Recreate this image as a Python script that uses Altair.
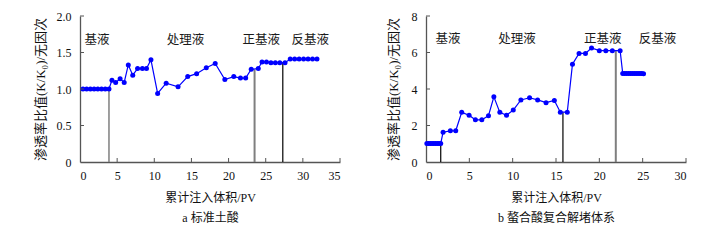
import altair as alt
import pandas as pd

# ---------------- data: panel a (标准土酸) ----------------
a_x = [0.4, 0.9, 1.4, 1.9, 2.4, 2.9, 3.4, 3.9,
       4.3, 4.8, 5.4, 5.95, 6.5, 7.1, 7.75, 8.4, 8.95, 9.55, 10.45, 11.6,
       13.2, 14.5, 15.7, 17.0, 18.2, 19.5, 20.7, 21.6, 22.3, 23.05, 24.0,
       24.5, 25.1, 25.7, 26.3, 26.9, 27.6,
       28.3, 28.9, 29.5, 30.1, 30.7, 31.3, 31.9]
a_y = [1.0, 1.0, 1.0, 1.0, 1.0, 1.0, 1.0, 1.0,
       1.12, 1.09, 1.14, 1.09, 1.33, 1.19, 1.28, 1.28, 1.28, 1.40, 0.94, 1.08,
       1.03, 1.17, 1.21, 1.29, 1.35, 1.13, 1.17, 1.15, 1.15, 1.27, 1.28,
       1.37, 1.37, 1.36, 1.36, 1.36, 1.36,
       1.41, 1.41, 1.41, 1.41, 1.41, 1.41, 1.41]
a_div_x = [3.9, 23.5, 27.3]
a_div_top = [1.0, 1.27, 1.36]
a_div_color = ["#7f7f7f", "#7f7f7f", "#000000"]
a_div_width = [1.5, 2.0, 1.2]
a_stage_x = [2.3, 14.2, 24.4, 31.0]
a_stage_y = [1.67, 1.67, 1.67, 1.67]
a_xticks = [0, 5, 10, 15, 20, 25, 30, 35]
a_yticks = [0, 0.5, 1.0, 1.5, 2.0]

# ---------------- data: panel b (螯合酸复合解堵体系) ----------------
b_x = [0.1, 0.3, 0.5, 0.7, 0.9, 1.1, 1.3, 1.5, 1.7,
       1.97, 2.81, 3.43, 4.12, 4.97, 5.70, 6.44, 7.21, 7.83, 8.52, 9.29, 10.07,
       10.95, 11.95, 12.88, 13.85, 14.81, 15.5, 16.3,
       16.9, 17.66, 18.4, 19.1, 20.0, 20.75, 21.5, 22.4,
       22.7, 22.92, 23.14, 23.36, 23.58, 23.8, 24.02, 24.24, 24.46, 24.68, 24.9, 25.1]
b_y = [1.02, 1.02, 1.02, 1.02, 1.02, 1.02, 1.02, 1.02, 1.02,
       1.63, 1.71, 1.71, 2.72, 2.56, 2.31, 2.31, 2.54, 3.57, 2.72, 2.56, 2.85,
       3.40, 3.52, 3.40, 3.25, 3.37, 2.73, 2.73,
       5.36, 5.95, 5.95, 6.25, 6.10, 6.10, 6.10, 6.10,
       4.85, 4.85, 4.85, 4.85, 4.85, 4.85, 4.85, 4.85, 4.85, 4.85, 4.85, 4.84]
b_div_x = [1.7, 15.8, 21.9]
b_div_top = [1.02, 2.72, 6.08]
b_div_color = ["#000000", "#000000", "#7f7f7f"]
b_div_width = [1.2, 1.2, 2.0]
b_stage_x = [2.55, 10.5, 20.4, 26.7]
b_stage_y = [6.72, 6.72, 6.72, 6.72]
b_xticks = [0, 5, 10, 15, 20, 25, 30]
b_yticks = [0, 2, 4, 6, 8]

stage_names = ["基液", "处理液", "正基液", "反基液"]
x_title = "累计注入体积/PV"
y_title = "渗透率比值(K/K₀)/无因次"

W, H = 260, 146
CJK = "Noto Sans CJK SC"
MIX = "Liberation Serif, Noto Sans CJK SC"
BLUE = "#0000ff"


def panel(xv, yv, dx, dtop, dcol, dw, sx, sy, xticks, yticks, caption,
          ylabel_expr, ytitle_pad):
    xs = alt.Scale(domain=[xticks[0], xticks[-1]], nice=False, zero=False)
    ys = alt.Scale(domain=[yticks[0], yticks[-1]], nice=False, zero=False)
    yaxis_kwargs = dict(values=yticks, title=y_title, ticks=False,
                        labelPadding=9, titlePadding=ytitle_pad, grid=False,
                        titleFontSize=13)
    if ylabel_expr:
        yaxis_kwargs["labelExpr"] = ylabel_expr
    X = alt.X("x:Q", scale=xs,
              axis=alt.Axis(values=xticks, title=[x_title, caption], ticks=False,
                            labelPadding=8, titlePadding=11, grid=False,
                            titleLineHeight=20.5))
    Y = alt.Y("y:Q", scale=ys, axis=alt.Axis(**yaxis_kwargs))

    df = pd.DataFrame({"x": xv, "y": yv})
    rules_df = pd.DataFrame({"x": dx, "y": dtop, "c": dcol, "w": dw})
    text_df = pd.DataFrame({"x": sx, "y": sy, "t": stage_names})
    xt_df = pd.DataFrame({"x": xticks[1:]})
    yt_df = pd.DataFrame({"y": yticks[1:]})

    rules = alt.Chart(rules_df).mark_rule().encode(
        x=X, y=Y, y2=alt.datum(0),
        color=alt.Color("c:N", scale=None),
        strokeWidth=alt.StrokeWidth("w:Q", scale=None))
    line = alt.Chart(df).mark_line(color=BLUE, strokeWidth=1.2).encode(x=X, y=Y)
    pts = alt.Chart(df).mark_circle(color=BLUE, size=25, opacity=1).encode(x=X, y=Y)
    txt = alt.Chart(text_df).mark_text(font=CJK, fontSize=12.5, color="#1a1a1a").encode(
        x=X, y=Y, text="t:N")
    xt = alt.Chart(xt_df).mark_rule(color="#555555", strokeWidth=1).encode(
        x=X, y=alt.value(H), y2=alt.value(H - 4))
    yt = alt.Chart(yt_df).mark_rule(color="#555555", strokeWidth=1).encode(
        y=Y, x=alt.value(0), x2=alt.value(4))
    return alt.layer(rules, line, pts, txt, xt, yt).properties(width=W, height=H)


left = panel(a_x, a_y, a_div_x, a_div_top, a_div_color, a_div_width,
             a_stage_x, a_stage_y, a_xticks, a_yticks, "a  标准土酸",
             "datum.value == 0 ? '0' : format(datum.value, '.1f')", 9)
right = panel(b_x, b_y, b_div_x, b_div_top, b_div_color, b_div_width,
              b_stage_x, b_stage_y, b_xticks, b_yticks, "b  螯合酸复合解堵体系",
              None, 11)

chart = alt.hconcat(left, right, spacing=86, bounds="flush").properties(
    padding={"left": 33, "top": 10, "right": 5, "bottom": 5},
    background="white",
).configure_view(stroke=None).configure_axis(
    domainColor="#555555", domainWidth=1.3,
    labelFont="Liberation Serif", labelFontSize=12, labelColor="#111111",
    titleFont=MIX, titleFontSize=12, titleFontWeight="normal", titleColor="#111111",
)

chart.save("out.html", embed_options={"renderer": "svg", "actions": False})
